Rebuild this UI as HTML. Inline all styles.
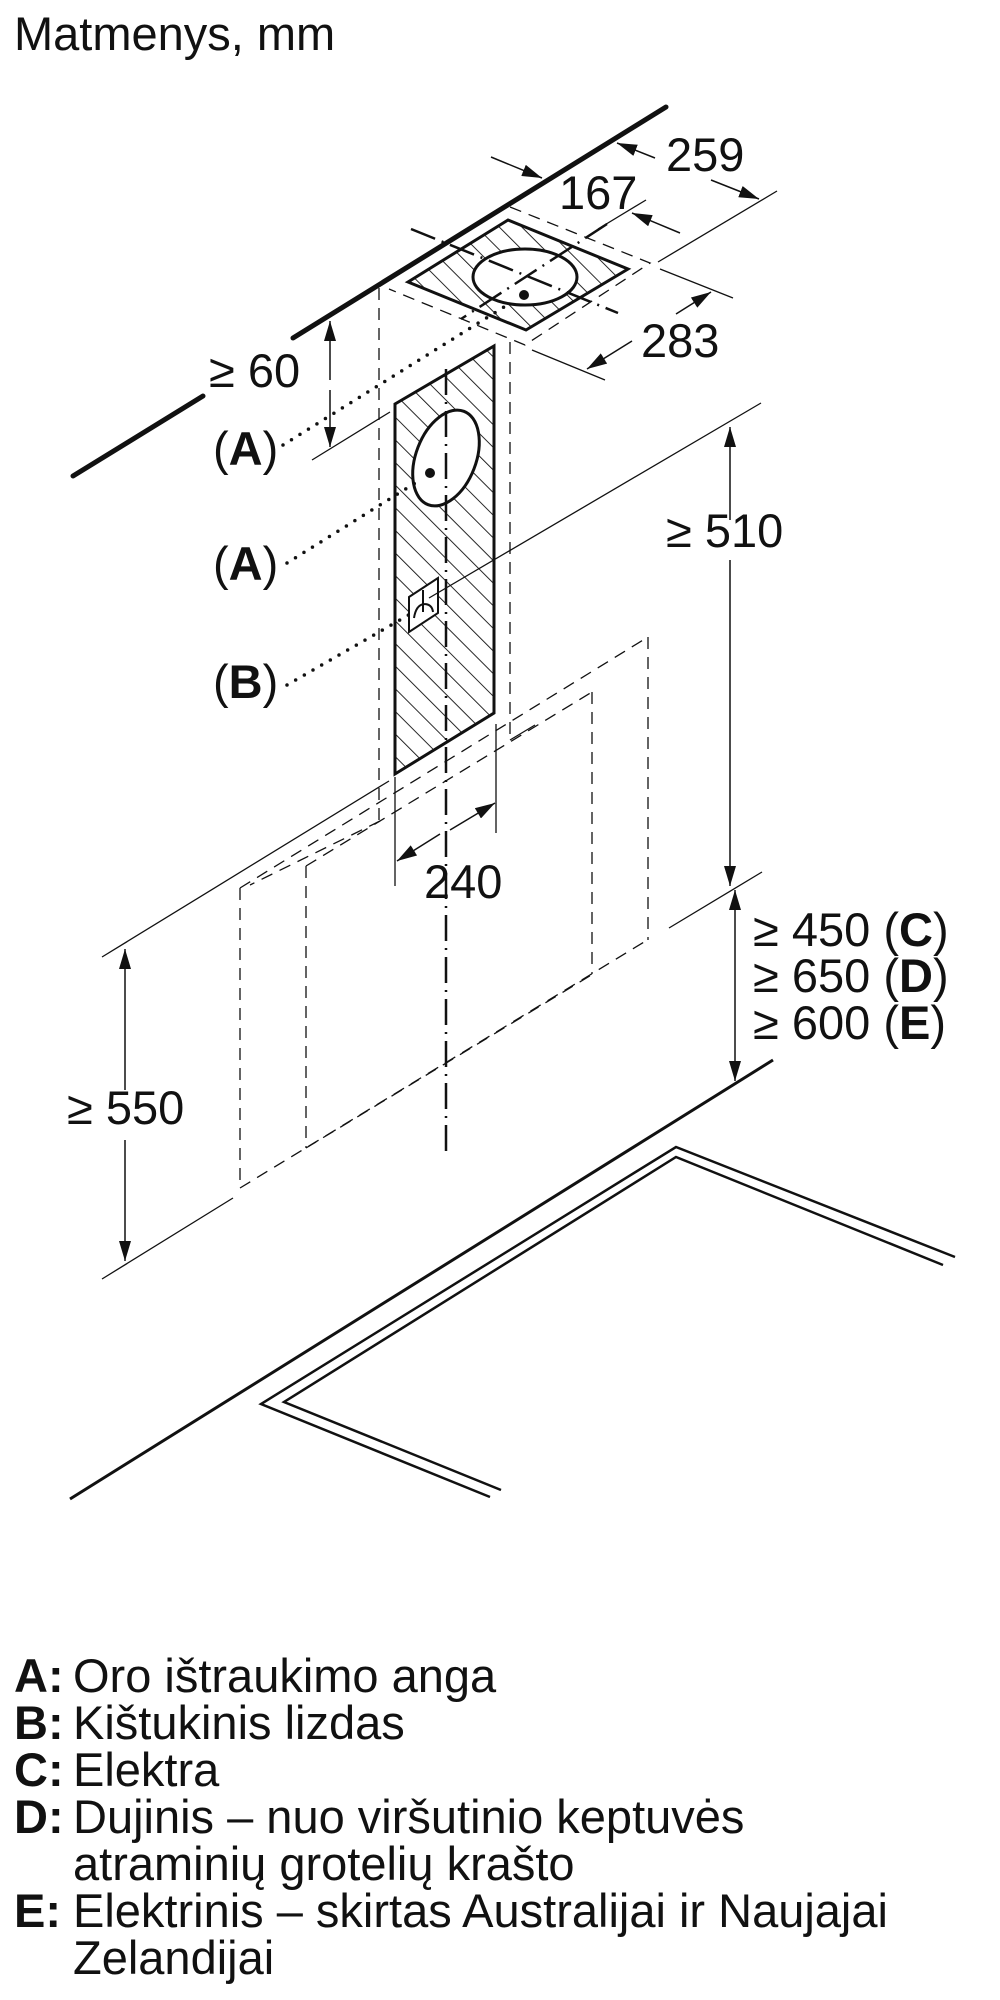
<!DOCTYPE html>
<html><head><meta charset="utf-8"><style>
html,body{margin:0;padding:0;background:#fff;}
svg{display:block;}
text{font-family:"Liberation Sans",Arial,sans-serif;fill:#111;}
</style></head><body>
<svg width="1000" height="2000" viewBox="0 0 1000 2000" xmlns="http://www.w3.org/2000/svg">
<defs>
<pattern id="h" width="16" height="16" patternUnits="userSpaceOnUse" patternTransform="rotate(-45)">
<line x1="0" y1="0" x2="0" y2="16" stroke="#111" stroke-width="1.8"/>
</pattern>
<marker id="ar" markerWidth="20" markerHeight="12" refX="20" refY="6" orient="auto" markerUnits="userSpaceOnUse" viewBox="0 0 20 12">
<path d="M0,0 L20,6 L0,12 z" fill="#111"/>
</marker>
</defs>
<g fill="none" stroke="#111">
<text x="14" y="50" font-size="47" stroke="none">Matmenys, mm</text>

<line x1="666" y1="107" x2="293" y2="338" stroke-width="5" stroke-linecap="round"/>
<line x1="203" y1="396" x2="73" y2="476" stroke-width="5" stroke-linecap="round"/>

<polyline points="510,207 650,263 525,345 389,289" stroke-width="1.3" stroke-dasharray="12,8"/>

<polygon points="408,282 508,220 628,269 526,330" fill="url(#h)" stroke-width="3"/>
<ellipse cx="525" cy="277" rx="52" ry="28" fill="#fff" stroke-width="3"/>
<circle cx="524" cy="295" r="5" fill="#111" stroke="none"/>
<line x1="411" y1="229" x2="618" y2="313" stroke-width="2.5" stroke-dasharray="26,7,2,7"/>
<line x1="607" y1="224" x2="461" y2="319" stroke-width="2.5" stroke-dasharray="26,7,2,7"/>

<line x1="777" y1="191" x2="658" y2="262" stroke-width="1.3"/>
<line x1="660" y1="269" x2="733" y2="298" stroke-width="1.3"/>
<line x1="532" y1="350" x2="605" y2="380" stroke-width="1.3"/>
<line x1="646" y1="200" x2="598" y2="229" stroke-width="1.3"/>
<line x1="655" y1="158" x2="617" y2="143" stroke-width="1.5" marker-end="url(#ar)"/>
<line x1="711" y1="180" x2="759" y2="199" stroke-width="1.5" marker-end="url(#ar)"/>
<line x1="491" y1="157" x2="542" y2="178" stroke-width="1.5" marker-end="url(#ar)"/>
<line x1="680" y1="233" x2="632" y2="213" stroke-width="1.5" marker-end="url(#ar)"/>
<line x1="676" y1="314" x2="711" y2="292" stroke-width="1.5" marker-end="url(#ar)"/>
<line x1="632" y1="341" x2="587" y2="369" stroke-width="1.5" marker-end="url(#ar)"/>
<text x="666" y="171" font-size="47" stroke="none">259</text>
<text x="559" y="209" font-size="47" stroke="none">167</text>
<text x="641" y="357" font-size="47" stroke="none">283</text>

<line x1="330" y1="380" x2="330" y2="321" stroke-width="1.5" marker-end="url(#ar)"/>
<line x1="330" y1="390" x2="330" y2="447" stroke-width="1.5" marker-end="url(#ar)"/>
<line x1="312" y1="460" x2="390" y2="412" stroke-width="1.3"/>
<text x="209" y="387" font-size="47" stroke="none">≥ 60</text>

<line x1="379" y1="288" x2="379" y2="821" stroke-width="1.3" stroke-dasharray="12,8"/>
<line x1="510" y1="342" x2="510" y2="740" stroke-width="1.3" stroke-dasharray="12,8"/>
<line x1="510" y1="740" x2="535" y2="725" stroke-width="1.3"/>

<polygon points="395,404 494,346 494,713 395,774" fill="url(#h)" stroke-width="3"/>
<ellipse cx="0" cy="0" rx="30" ry="50" transform="translate(446,458) rotate(21)" fill="#fff" stroke-width="3"/>
<circle cx="430" cy="473" r="5" fill="#111" stroke="none"/>
<line x1="446" y1="369" x2="446" y2="1155" stroke-width="2.5" stroke-dasharray="26,7,2,7"/>

<polygon points="409,597 438,578 438,613 409,632" fill="#fff" stroke-width="2"/>
<path d="M423,590 V612 M414,618 Q416,605 424,604 Q432,604 433,612" stroke-width="2"/>
<line x1="429" y1="598" x2="761" y2="403" stroke-width="1.3"/>

<line x1="283" y1="445" x2="512" y2="302" stroke-width="3.5" stroke-dasharray="0,10" stroke-linecap="round"/>
<line x1="287" y1="563" x2="420" y2="480" stroke-width="3.5" stroke-dasharray="0,10" stroke-linecap="round"/>
<line x1="287" y1="685" x2="412" y2="613" stroke-width="3.5" stroke-dasharray="0,10" stroke-linecap="round"/>
<text x="213" y="465" font-size="47" stroke="none">(<tspan font-weight="bold">A</tspan>)</text>
<text x="213" y="580" font-size="47" stroke="none">(<tspan font-weight="bold">A</tspan>)</text>
<text x="213" y="698" font-size="47" stroke="none">(<tspan font-weight="bold">B</tspan>)</text>

<line x1="730" y1="520" x2="730" y2="427" stroke-width="1.5" marker-end="url(#ar)"/>
<line x1="730" y1="560" x2="730" y2="886" stroke-width="1.5" marker-end="url(#ar)"/>
<text x="666" y="547" font-size="47" stroke="none">≥ 510</text>

<line x1="395" y1="777" x2="395" y2="886" stroke-width="1.3"/>
<line x1="496" y1="724" x2="496" y2="833" stroke-width="1.3"/>
<line x1="440" y1="834" x2="397" y2="861" stroke-width="1.5" marker-end="url(#ar)"/>
<line x1="450" y1="830" x2="495" y2="803" stroke-width="1.5" marker-end="url(#ar)"/>
<text x="424" y="898" font-size="47" stroke="none">240</text>

<line x1="102" y1="957" x2="389" y2="781" stroke-width="1.3"/>
<line x1="102" y1="1279" x2="233" y2="1198" stroke-width="1.3"/>

<g stroke-width="1.3" stroke-dasharray="12,8">
<line x1="240" y1="888" x2="648" y2="637"/>
<line x1="648" y1="637" x2="648" y2="940"/>
<line x1="240" y1="888" x2="240" y2="1188"/>
<line x1="240" y1="1188" x2="649" y2="939"/>
<line x1="306" y1="866" x2="592" y2="692"/>
<line x1="592" y1="692" x2="592" y2="974"/>
<line x1="306" y1="866" x2="306" y2="1148"/>
<line x1="306" y1="1148" x2="593" y2="974"/>
<line x1="380" y1="821" x2="250" y2="885"/>
</g>

<line x1="125" y1="1090" x2="125" y2="949" stroke-width="1.5" marker-end="url(#ar)"/>
<line x1="125" y1="1140" x2="125" y2="1261" stroke-width="1.5" marker-end="url(#ar)"/>
<text x="67" y="1124" font-size="47" stroke="none">≥ 550</text>

<line x1="669" y1="928" x2="762" y2="872" stroke-width="1.3"/>
<line x1="735" y1="1000" x2="735" y2="890" stroke-width="1.5" marker-end="url(#ar)"/>
<line x1="735" y1="1000" x2="735" y2="1081" stroke-width="1.5" marker-end="url(#ar)"/>
<text x="753" y="946" font-size="47" stroke="none">≥ 450 (<tspan font-weight="bold">C</tspan>)</text>
<text x="753" y="992" font-size="47" stroke="none">≥ 650 (<tspan font-weight="bold">D</tspan>)</text>
<text x="753" y="1039" font-size="47" stroke="none">≥ 600 (<tspan font-weight="bold">E</tspan>)</text>

<line x1="70" y1="1499" x2="773" y2="1060" stroke-width="3"/>
<polyline points="490,1497 261,1404 676,1147 955,1257" stroke-width="2.5"/>
<polyline points="501,1490 284,1402 676,1157 943,1265" stroke-width="2.5"/>

<g stroke="none" font-size="47">
<text x="14" y="1692"><tspan font-weight="bold">A:</tspan></text><text x="73" y="1692">Oro ištraukimo anga</text>
<text x="14" y="1739"><tspan font-weight="bold">B:</tspan></text><text x="73" y="1739">Kištukinis lizdas</text>
<text x="14" y="1786"><tspan font-weight="bold">C:</tspan></text><text x="73" y="1786">Elektra</text>
<text x="14" y="1833"><tspan font-weight="bold">D:</tspan></text><text x="73" y="1833">Dujinis – nuo viršutinio keptuvės</text>
<text x="73" y="1880">atraminių grotelių krašto</text>
<text x="14" y="1927"><tspan font-weight="bold">E:</tspan></text><text x="73" y="1927">Elektrinis – skirtas Australijai ir Naujajai</text>
<text x="73" y="1974">Zelandijai</text>
</g>
</g>
</svg>
</body></html>
